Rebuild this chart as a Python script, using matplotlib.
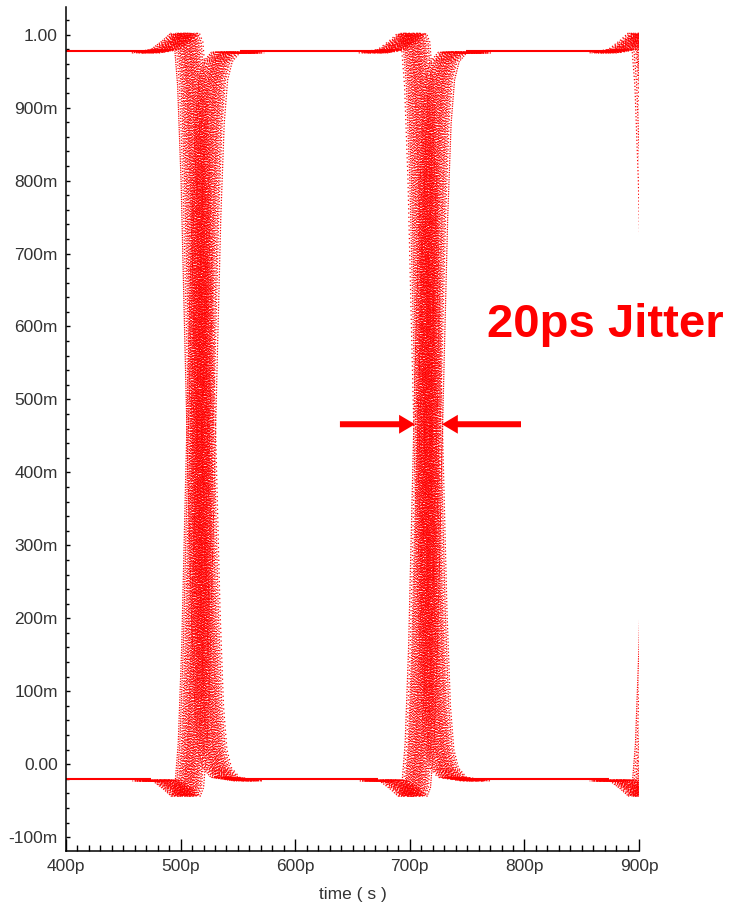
import numpy as np
import matplotlib.pyplot as plt
from matplotlib.ticker import MultipleLocator, FuncFormatter

plt.rcParams['xtick.direction'] = 'in'
plt.rcParams['ytick.direction'] = 'in'

# --- eye diagram data (time in ps, voltage in V) ---
edge_times = [515, 713, 914]          # nominal edge positions, one UI = 200 ps
high_level = 0.978
low_level = -0.02

# shape of one edge, time relative to the nominal edge
edge_dt = [-45, -28, -18, -11, -8, -5, -2, 1, 4, 7, 10, 13, 17, 24, 45]
fall_v = [0.975, 0.980, 0.992, 1.002, 0.990, 0.930, 0.800, 0.600,
          0.400, 0.210, 0.080, 0.020, -0.005, -0.018, -0.023]
rise_v = [-0.023, -0.022, -0.034, -0.044, -0.032, 0.028, 0.158, 0.358,
          0.558, 0.748, 0.878, 0.938, 0.963, 0.976, 0.975]

# per-trace timing offsets (ps)
fall_jitter = [-12.6, -11.0, -9.6, -8.7, -7.9, -7.1, -6.4, -5.8, -5.1,
               -4.5, -3.9, -3.4, -2.8, -2.3, -1.7, -1.2, -0.6, 0.0, 0.5, 1.0,
               1.6, 2.1, 2.7, 3.2, 3.8, 4.3, 5.0, 5.6, 6.3, 7.0, 7.8, 8.6,
               9.7, 10.9, 12.4]
rise_jitter = [-12.1, -10.7, -9.3, -8.4, -7.6, -6.8, -6.1, -5.5, -4.8,
               -4.2, -3.7, -3.1, -2.6, -2.0, -1.5, -0.9, -0.4, 0.2, 0.7, 1.3,
               1.8, 2.4, 2.9, 3.5, 4.0, 4.6, 5.3, 5.9, 6.6, 7.3, 8.1, 9.0,
               10.1, 11.2, 13.0]

# arrows marking the jitter window at the second crossing
window_left = 704.5
window_right = 728.0
arrow_level = 0.466

red = '#ff0000'

fig = plt.figure(figsize=(7.32, 9.08), dpi=100)
ax = fig.add_axes([0.0902, 0.0628, 0.7828, 0.9295])

# jittered edges, drawn dotted so overlapping traces look like sampled points;
# dash gaps and phases vary from trace to trace to break up the pattern
dot_gaps = [0.8, 1.5, 1.0, 2.0, 0.9, 1.7, 1.2, 2.4, 1.1]


def dot_style(i):
    gap = dot_gaps[i % len(dot_gaps)]
    return (i * 0.73 % (1 + gap), (1.0, gap))


n = 0
for t0 in edge_times:
    for j in fall_jitter:
        ax.plot(np.add(edge_dt, t0 + j), fall_v, color=red, lw=0.9,
                ls=dot_style(n))
        n += 1
    for j in rise_jitter:
        ax.plot(np.add(edge_dt, t0 + j), rise_v, color=red, lw=0.9,
                ls=dot_style(n))
        n += 1

# settled levels between the edges
settle_before = edge_dt[1] + min(fall_jitter)
settle_after = edge_dt[-2] + max(fall_jitter)
starts = [400] + [t + settle_after for t in edge_times[:-1]]
ends = [t + settle_before for t in edge_times]
for level in (high_level, low_level):
    ax.hlines([level] * len(starts), starts, ends, colors=red, lw=1.5)

ax.set_xlim(400, 900)
ax.set_ylim(-0.119, 1.038)

# axes styling
for side in ('top', 'right'):
    ax.spines[side].set_visible(False)
for side in ('left', 'bottom'):
    ax.spines[side].set_linewidth(1.1)
    ax.spines[side].set_color('black')

ax.xaxis.set_major_locator(MultipleLocator(100))
ax.xaxis.set_minor_locator(MultipleLocator(10))
ax.yaxis.set_major_locator(MultipleLocator(0.1))
ax.yaxis.set_minor_locator(MultipleLocator(0.02))


def volt_label(v, pos):
    mv = int(round(v * 1000))
    if mv == 0:
        return '0.00'
    if mv == 1000:
        return '1.00'
    return '%dm' % mv


ax.xaxis.set_major_formatter(FuncFormatter(lambda v, pos: '%dp' % v))
ax.yaxis.set_major_formatter(FuncFormatter(volt_label))

tick_font = ['Liberation Sans', 'DejaVu Sans']
ax.tick_params(axis='x', which='major', length=8.6, width=1,
               pad=5.8, labelsize=12.5, labelcolor='#333333')
ax.tick_params(axis='x', which='minor', length=4.3, width=1)
ax.tick_params(axis='y', which='major', length=3.2, width=1,
               pad=5.8, labelsize=12.5, labelcolor='#333333')
ax.tick_params(axis='y', which='minor', length=1.8, width=1)
for lab in ax.get_xticklabels() + ax.get_yticklabels():
    lab.set_family(tick_font)

ax.set_xlabel('time ( s )', family=tick_font, fontsize=12.5, color='#333333')
ax.xaxis.set_label_coords(0.5, -0.052)
ax.xaxis.label.set_va('center')

# jitter annotation
arrow_style = 'simple,head_length=0.53,head_width=0.63,tail_width=0.2'
ax.annotate('', xy=(window_left, arrow_level), xytext=(639, arrow_level),
            arrowprops=dict(arrowstyle=arrow_style, mutation_scale=21.6,
                            fc=red, ec='none', lw=0, shrinkA=0, shrinkB=0),
            annotation_clip=False)
ax.annotate('', xy=(window_right, arrow_level), xytext=(797, arrow_level),
            arrowprops=dict(arrowstyle=arrow_style, mutation_scale=21.6,
                            fc=red, ec='none', lw=0, shrinkA=0, shrinkB=0),
            annotation_clip=False)
fig.text(0.665, 0.629, '20ps Jitter', color=red, fontsize=34,
         fontweight='bold', family=['Liberation Sans', 'DejaVu Sans'],
         ha='left', va='baseline')

fig.savefig('out.png', dpi=100, facecolor='white')
